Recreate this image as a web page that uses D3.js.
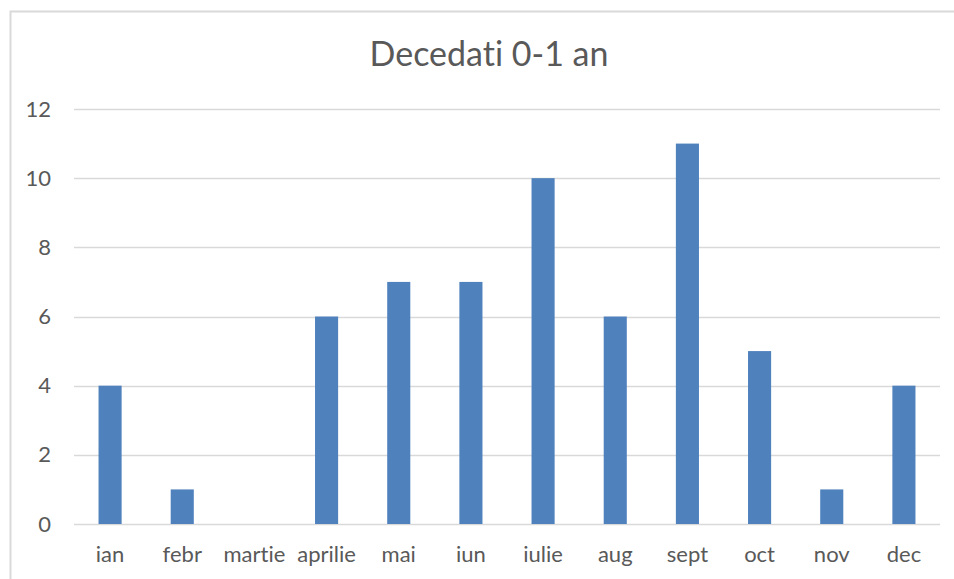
<!DOCTYPE html>
<html>
<head>
<meta charset="utf-8">
<script src="https://cdn.jsdelivr.net/npm/d3@7"></script>
<style>
  body { margin: 0; background: #fff; }
  text { font-family: Lato, "Open Sans", sans-serif; fill: #595959; font-variant-ligatures: none; }
</style>
</head>
<body>
<svg width="954" height="579"></svg>
<script>
// data
var months = ["ian", "febr", "martie", "aprilie", "mai", "iun", "iulie", "aug", "sept", "oct", "nov", "dec"];
var deaths = [4, 1, 0, 6, 7, 7, 10, 6, 11, 5, 1, 4];
var yTicks = [0, 2, 4, 6, 8, 10, 12];
var title = "Decedati 0-1 an";

var svg = d3.select("svg"),
	margin = {top: 109, right: 14, bottom: 55, left: 74},
	width = svg.attr("width") - margin.left - margin.right,
	height = svg.attr("height") - margin.top - margin.bottom;

// chart frame (runs off the right and bottom edges)
svg.append("rect")
	.attr("x", 10.5).attr("y", 11.5)
	.attr("width", 980).attr("height", 600)
	.attr("fill", "none")
	.attr("stroke", "#d9d9d9")
	.attr("stroke-width", 2);

svg.append("text")
	.attr("x", 489).attr("y", 66)
	.attr("text-anchor", "middle")
	.style("font-size", "34px")
	.text(title);

var g = svg.append("g")
	.attr("transform", "translate(" + margin.left + "," + margin.top + ")");

var x = d3.scaleBand().domain(months).range([0, width]).paddingInner(0.68).paddingOuter(0.34);
var y = d3.scaleLinear().domain([0, 12]).range([height, 0]);

// gridlines
g.selectAll(".grid")
	.data(yTicks)
	.enter().append("line")
		.attr("class", "grid")
		.attr("x1", 0).attr("x2", width)
		.attr("y1", function(d) { return Math.round(y(d)) + 0.5; })
		.attr("y2", function(d) { return Math.round(y(d)) + 0.5; })
		.attr("stroke", "#d9d9d9")
		.attr("stroke-width", 1.5);

// y axis labels
var yAxis = g.append("g").call(d3.axisLeft(y).tickValues(yTicks).tickSize(0).tickPadding(23));
yAxis.select(".domain").remove();
yAxis.selectAll("text").style("font-size", "22px").attr("fill", "#595959");

// bars
g.selectAll(".bar")
	.data(deaths)
	.enter().append("rect")
		.attr("class", "bar")
		.attr("x", function(d, i) { return x(months[i]); })
		.attr("width", x.bandwidth())
		.attr("y", function(d) { return y(d); })
		.attr("height", function(d) { return height - y(d); })
		.attr("fill", "#4f81bd");

// x axis labels
var xAxis = g.append("g")
	.attr("transform", "translate(0," + height + ")")
	.call(d3.axisBottom(x).tickSize(0).tickPadding(22));
xAxis.select(".domain").remove();
xAxis.selectAll("text").style("font-size", "22px").attr("fill", "#595959");
</script>
</body>
</html>
